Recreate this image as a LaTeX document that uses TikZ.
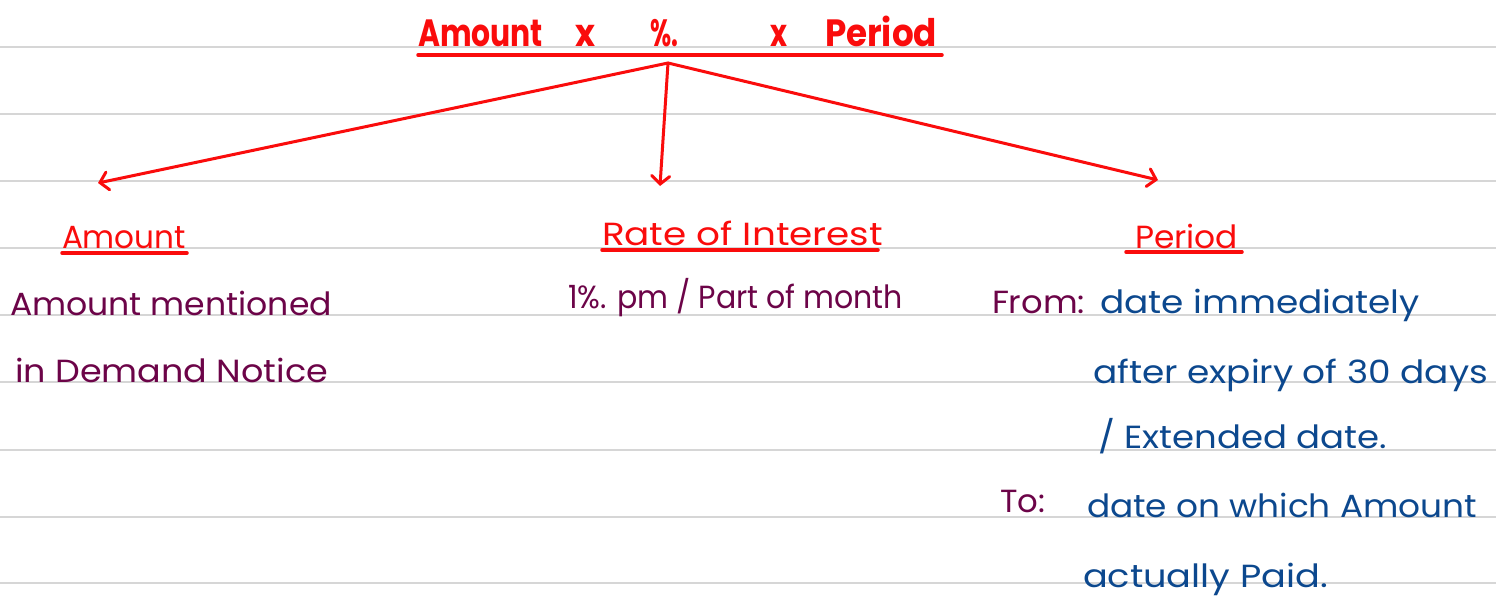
\documentclass[tikz,border=0pt]{standalone}
\usepackage{fontspec}
\setmainfont{Poppins}
\usetikzlibrary{arrows.meta}
\newsavebox\fitbox
\newcommand\fitto[2]{\sbox\fitbox{#2}\pgfmathsetmacro\fitr{#1/(\wd\fitbox)}\scalebox{\fitr}[1]{\usebox\fitbox}}
\definecolor{inkred}{RGB}{250,12,12}
\definecolor{inkplum}{RGB}{108,4,72}
\definecolor{inkblue}{RGB}{12,72,142}
\definecolor{rulegray}{RGB}{214,214,214}
\tikzset{
  rule/.style={rulegray, line width=1.4pt},
  txt/.style={anchor=base west, inner sep=0pt, outer sep=0pt},
  titletxt/.style={txt, text=inkred, font=\fontsize{38}{44}\selectfont\bfseries},
  headtxt/.style={txt, text=inkred, font=\fontsize{32}{36}\selectfont},
  plumtxt/.style={txt, text=inkplum, font=\fontsize{32}{36}\selectfont},
  bluetxt/.style={txt, text=inkblue, font=\fontsize{32}{36}\selectfont},
  ul/.style={inkred, line width=3.5pt, line cap=round},
  arr/.style={inkred, line width=3pt, line cap=round, line join=round,
    -{Straight Barb[length=8pt,width=18pt,line cap=round]}}
}
\begin{document}
\begin{tikzpicture}[x=1pt,y=-1pt]
\useasboundingbox (0,0) rectangle (1496,614);
\fill[white] (0,0) rectangle (1496,614);
\foreach \yy in {47,114,181,248,315,382,450,517,583}
  \draw[rule] (0,\yy) -- (1496,\yy);

% title
\node[titletxt] (title) at (418,46) {\makebox[524pt][l]{\rlap{\fitto{125}{Amount}}\hspace{157pt}\rlap{\fitto{20}{x}}\hspace{75pt}\rlap{\fitto{28}{\%.}}\hspace{120pt}\rlap{\fitto{17}{x}}\hspace{55pt}\fitto{112}{Period}}};
\draw[ul] ([yshift=-9pt]title.base west) -- ([yshift=-9pt]title.base east);

% headers
\node[headtxt] (hA) at (62,248) {\fitto{124}{Amount}};
\draw[ul] ([yshift=-5pt]hA.base west) -- ([xshift=1pt,yshift=-5pt]hA.base east);
\node[headtxt] (hR) at (602,245) {\fitto{281}{Rate of Interest}};
\draw[ul] ([yshift=-5pt]hR.base west) -- ([xshift=-5pt,yshift=-5pt]hR.base east);
\node[headtxt] (hP) at (1135,248) {\fitto{103}{Period}};
\draw[ul] ([xshift=-9pt,yshift=-4pt]hP.base west) -- ([xshift=4pt,yshift=-4pt]hP.base east);

% connectors
\coordinate (apex) at (668,63);
\coordinate (tA) at (98,183);
\coordinate (tR) at (660,186);
\coordinate (tP) at (1158,180);
\draw[arr] (apex) -- (tA);
\draw[arr] (apex) -- (tR);
\draw[arr] (apex) -- (tP);

% amount column
\node[plumtxt] (b1) at (10,315) {\fitto{322}{Amount mentioned}};
\node[plumtxt] (b2) at (15,382) {\fitto{313}{in Demand Notice}};

% rate column
\node[plumtxt] (r1) at (568,308) {\fitto{335}{1\%. pm / Part of month}};

% period column
\node[plumtxt] (from) at (992,313) {\fitto{93}{From:}};
\node[bluetxt] (p1) at (1100,313) {\fitto{320}{date immediately}};
\node[bluetxt] (p2) at (1093,383) {\fitto{395}{after expiry of 30 days}};
\node[bluetxt] (p3) at (1098,448) {\fitto{289}{/ Extended date.}};
\node[plumtxt] (to) at (1000,512) {\fitto{45}{To:}};
\node[bluetxt] (p4) at (1087,517) {\fitto{390}{date on which Amount}};
\node[bluetxt] (p5) at (1083,587) {\fitto{245}{actually Paid.}};
\end{tikzpicture}
\end{document}
